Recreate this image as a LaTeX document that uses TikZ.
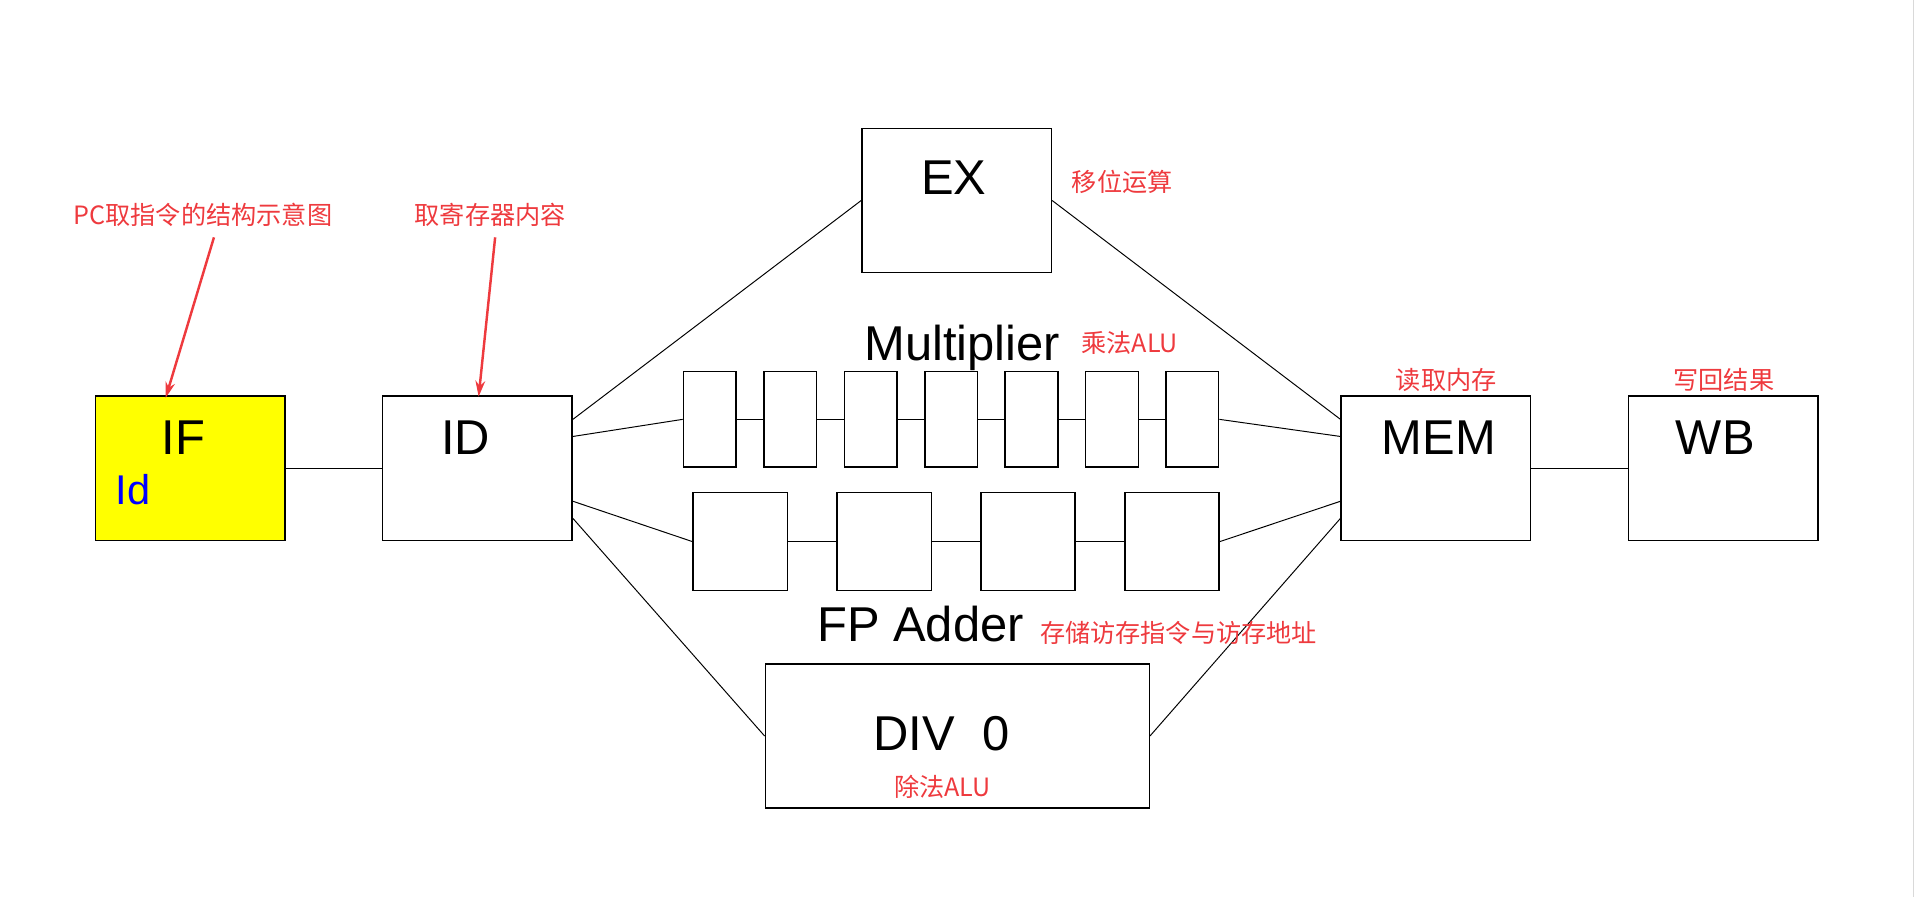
\documentclass[tikz,border=0pt]{standalone}
\usepackage{fontspec}
\setmainfont{Liberation Sans}
\newfontfamily\cjk{Noto Sans CJK SC}
\usetikzlibrary{arrows.meta}
\definecolor{notered}{RGB}{238,58,62}
\definecolor{ifyellow}{RGB}{255,255,0}
\begin{document}
\begin{tikzpicture}[x=0.5pt, y=-0.5pt,
  stage/.style={draw, line width=0.6pt, minimum width=77.5pt, minimum height=59pt, inner sep=0pt},
  mulbox/.style={draw, line width=0.6pt, minimum width=21.5pt, minimum height=39pt, inner sep=0pt},
  fpbox/.style={draw, line width=0.6pt, minimum width=38.5pt, minimum height=40pt, inner sep=0pt},
  big/.style={inner sep=0pt, text depth=0pt, font=\fontsize{20}{24}\selectfont},
  note/.style={inner sep=0pt, text depth=0pt, text=notered, font=\cjk\fontsize{10.3}{12}\selectfont},
  wire/.style={line width=0.4pt},
  pointer/.style={notered, line width=1pt, -{Stealth[length=6.5pt,width=4pt]}}]
\useasboundingbox (0,0) rectangle (1568,734);
\draw[black!15, line width=0.6pt] (1565,0) -- (1565,734);
% pipeline stages
\node[stage, fill=ifyellow] (pif) at (155.5,383){};
\node[stage] (pid) at (390.5,383){};
\node[stage] (pex) at (782.5,164){};
\node[stage, minimum width=157pt] (pdiv) at (783,602){};
\node[stage] (pmem) at (1174.5,383){};
\node[stage] (pwb) at (1409.5,383){};
\node[big] (tif) at (150,358){IF};
\node[big, text=blue, font=\fontsize{17}{20}\selectfont] (tld) at (109,400){Id};
\node[big] (tid) at (381,358){ID};
\node[big] (tex) at (780,145){EX};
\node[big] (tdiv) at (770,600){DIV~~0};
\node[big] (tmem) at (1177,358){MEM};
\node[big] (twb) at (1403,358){WB};
\node[big] (tmul) at (787,280){Multiplier};
\node[big] (tfpa) at (753,510){FP Adder};
% multiplier and adder pipelines
\foreach \i in {1,...,7}
  \node[mulbox] (mul\i) at (580.5+65.8*\i-65.8,343){};
\foreach \i in {1,...,4}
  \node[fpbox] (fpa\i) at (605.5+117.7*\i-117.7,443){};
\foreach \i [count=\j from 2] in {1,...,6}
  \draw[wire] (mul\i) -- (mul\j);
\foreach \i [count=\j from 2] in {1,...,3}
  \draw[wire] (fpa\i) -- (fpa\j);
% connectors
\draw[wire](pif) -- (pid);
\draw[wire](pmem) -- (pwb);
\draw[wire]([yshift=20pt]pid.east) -- (pex.west);
\draw[wire]([yshift=13pt]pid.east) -- (mul1.west);
\draw[wire]([yshift=-13.5pt]pid.east) -- (fpa1.west);
\draw[wire]([yshift=-20.5pt]pid.east) -- (pdiv.west);
\draw[wire](pex.east) -- ([yshift=20pt]pmem.west);
\draw[wire](mul7.east) -- ([yshift=13pt]pmem.west);
\draw[wire](fpa4.east) -- ([yshift=-13.5pt]pmem.west);
\draw[wire](pdiv.east) -- ([yshift=-20.5pt]pmem.west);
% notes
\node[note] (npc) at (166,175){PC取指令的结构示意图};
\node[note] (nreg) at (401,175){取寄存器内容};
\node[note] (nshift) at (918,148){移位运算};
\node[note] (nmul) at (924,280){乘法ALU};
\node[note] (nmem) at (1183,310){读取内存};
\node[note] (nwb) at (1410,310){写回结果};
\node[note] (nfpa) at (964,517){存储访存指令与访存地址};
\node[note] (ndiv) at (771,643){除法ALU};
\draw[pointer]([xshift=4.5pt,yshift=-5pt]npc.south) -- ([xshift=-10pt,yshift=-1pt]pif.north);
\draw[pointer]([xshift=2pt,yshift=-5pt]nreg.south) -- ([xshift=0.5pt,yshift=-0.5pt]pid.north);
\end{tikzpicture}
\end{document}
